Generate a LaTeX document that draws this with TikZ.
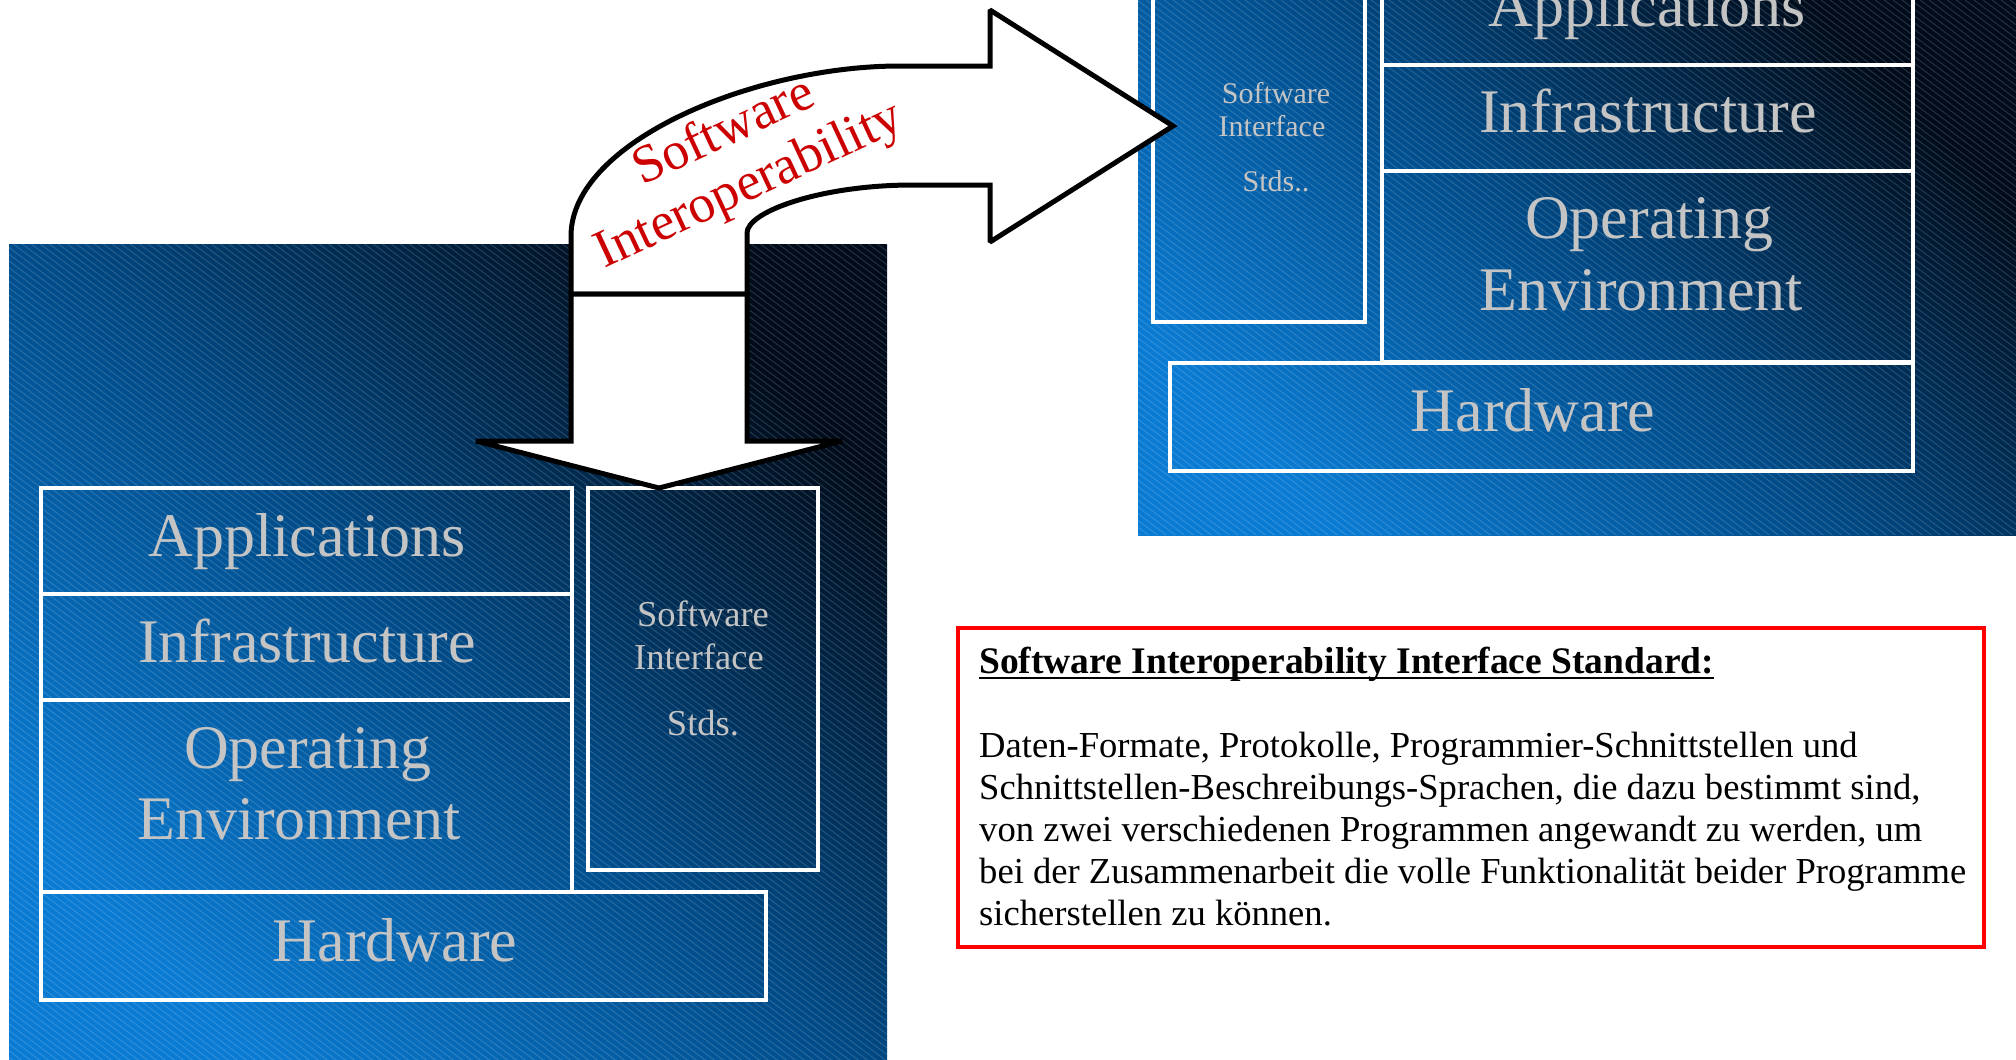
\documentclass[tikz,border=0pt]{standalone}
\usepackage{fontspec}
\setmainfont{Liberation Serif}
\usetikzlibrary{calc}
\definecolor{pdark}{HTML}{000C1B}
\definecolor{pmid}{HTML}{004A86}
\definecolor{plight}{HTML}{0A7BD2}
\definecolor{lbl}{HTML}{C4C4C4}
\definecolor{wred}{HTML}{CC0000}
\tikzset{
  panel/.style={top color=pdark, bottom color=plight, middle color=pmid, shading angle=-45,
    anchor=north west, inner sep=0pt, outer sep=0pt},
  layer/.style={draw=white, line width=4pt, inner sep=0pt, outer sep=0pt, anchor=north west},
  biglbl/.style={text=lbl, font=\fontsize{62}{69}\selectfont, anchor=base, inner sep=0pt},
  smlblL/.style={text=lbl, font=\fontsize{36.5}{43}\selectfont, anchor=base, inner sep=0pt},
  smlblR/.style={text=lbl, font=\fontsize{30}{34}\selectfont, anchor=base, inner sep=0pt},
  hatch/.style={white, opacity=0.15, line width=1pt},
  bigarrow/.style={fill=white, draw=black, line width=5pt, line join=miter, miter limit=2},
  bodytxt/.style={anchor=base west, inner sep=0pt, font=\fontsize{36.6}{42}\selectfont},
}
\begin{document}
\begin{tikzpicture}[x=1pt, y=-1pt]
\useasboundingbox (0,0) rectangle (2016,1060);
\clip (0,0) rectangle (2016,1060);
\fill[white] (0,0) rectangle (2016,1060);

% blue panels
\node[panel, minimum width=878pt, minimum height=816pt] (lp) at (9,244) {};
\node[panel, minimum width=878pt, minimum height=535pt] (rp) at (1138,0) {};

% hatching
\begin{scope}
  \clip (lp.north west) rectangle (lp.south east) (rp.north west) rectangle (rp.south east);
  \foreach \k in {-1500,-1491,...,2030} \draw[hatch] (\k,0) -- ++(1420,1065);
\end{scope}

% left stack
\node[layer, minimum width=531pt, minimum height=106pt] (appL) at (41,488) {};
\node[layer, minimum width=531pt, minimum height=106pt] (infL) at (41,594) {};
\node[layer, minimum width=531pt, minimum height=192pt] (opeL) at (41,700) {};
\node[layer, minimum width=725pt, minimum height=108pt] (hwL) at (41,892) {};
\node[layer, minimum width=230pt, minimum height=382pt] (sisL) at (588,488) {};

\node[biglbl] (appLt) at (307,556) {Applications};
\node[biglbl] (infLt) at (307,662) {Infrastructure};
\node[biglbl] (opeLt1) at (308,768) {Operating};
\node[biglbl] (opeLt2) at (299,839) {Environment};
\node[biglbl] (hwLt) at (395,961) {Hardware};
\node[smlblL] (sisLt1) at (703,626.5) {Software};
\node[smlblL] (sisLt2) at (699,669.7) {Interface};
\node[smlblL] (sisLt3) at (703,735) {Stds.};

% right stack
\node[layer, minimum width=531pt, minimum height=106pt] (appR) at (1382,-41) {};
\node[layer, minimum width=531pt, minimum height=106pt] (infR) at (1382,65) {};
\node[layer, minimum width=531pt, minimum height=191pt] (opeR) at (1382,171) {};
\node[layer, minimum width=743pt, minimum height=108pt] (hwR) at (1170,363) {};
\node[layer, minimum width=212pt, minimum height=400pt] (sisR) at (1153,-78) {};

\node[biglbl] (appRt) at (1647,27) {Applications};
\node[biglbl] (infRt) at (1648,132) {Infrastructure};
\node[biglbl] (opeRt1) at (1649,238.6) {Operating};
\node[biglbl] (opeRt2) at (1641,310) {Environment};
\node[biglbl] (hwRt) at (1533,431) {Hardware};
\node[smlblR] (sisRt1) at (1276,103.6) {Software};
\node[smlblR] (sisRt2) at (1272,136) {Interface};
\node[smlblR] (sisRt3) at (1276,191) {Stds..};

% big bent arrow
\draw[bigarrow] (571,294) -- (571,236)
  .. controls (571,142) and (753,66) .. (900,66)
  -- (990,66) -- (990,10) -- (1173,126) -- (990,242) -- (990,185) -- (913,185)
  .. controls (821,185) and (747,211.5) .. (747,233)
  -- (747,294) -- cycle;
\draw[bigarrow] (571,294) -- (571,441) -- (476,441) -- (659,488) -- (842,441)
  -- (747,441) -- (747,294) -- cycle;
\node[rotate=25, text=wred, font=\fontsize{53.5}{59}\selectfont, align=center, inner sep=0pt]
  (swi) at (737,160) {Software\\Interoperability};

% definition box
\node[draw=red, line width=4pt, anchor=north west, minimum width=1026pt, minimum height=319pt,
  inner sep=0pt, outer sep=0pt] (defbox) at (958,628) {};
\node[bodytxt, font=\fontsize{37.5}{42}\selectfont\bfseries] (ttl) at (979,673.6)
  {Software Interoperability Interface Standard:};
\draw[line width=2pt] ($(ttl.base west)+(0,4)$) -- ($(ttl.base east)+(0,4)$);
\foreach \t [count=\n] in {{Daten-Formate, Protokolle, Programmier-Schnittstellen und},
  {Schnittstellen-Beschreibungs-Sprachen, die dazu bestimmt sind,},
  {von zwei verschiedenen Programmen angewandt zu werden, um},
  {bei der Zusammenarbeit die volle Funktionalität beider Programme},
  {sicherstellen zu können.}}
  \node[bodytxt] (body\n) at (979,{757+(\n-1)*42.1}) {\t};
\end{tikzpicture}
\end{document}
